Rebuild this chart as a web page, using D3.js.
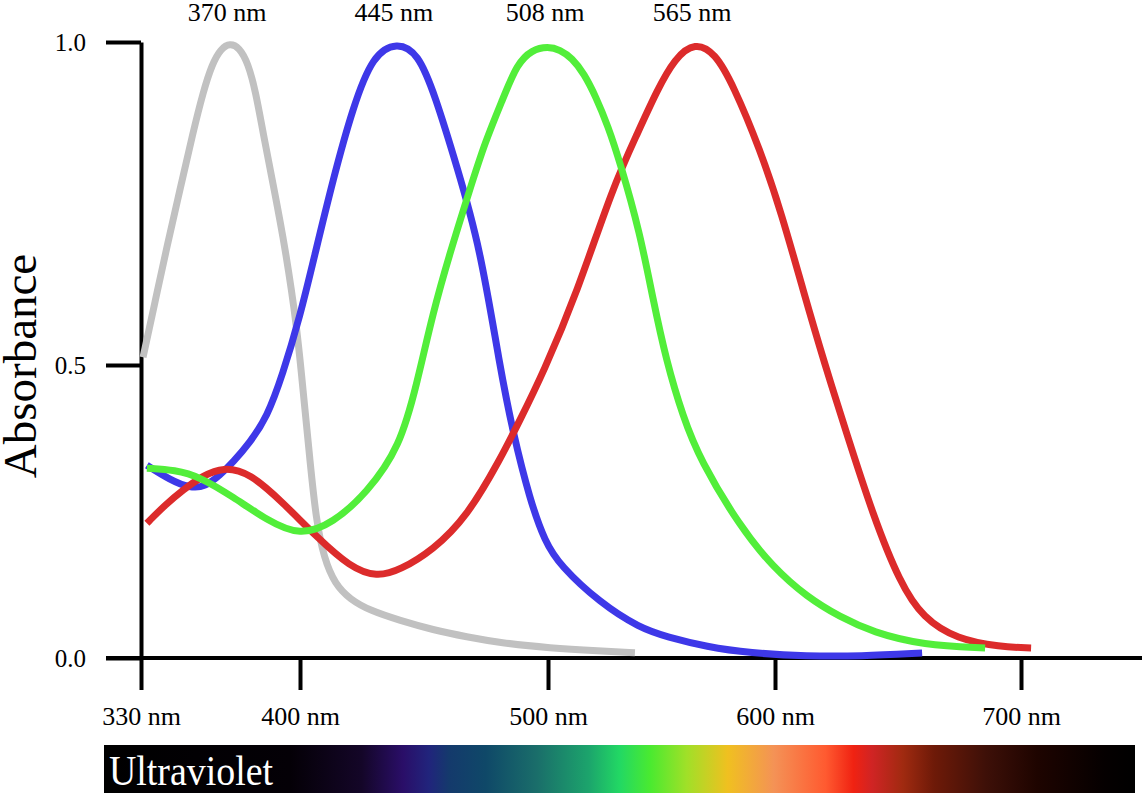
<!DOCTYPE html>
<html>
<head>
<meta charset="utf-8">
<script src="https://cdn.jsdelivr.net/npm/d3@7"></script>
<style>
  html, body { margin: 0; padding: 0; background: #fff; }
  svg { display: block; font-family: "Liberation Serif", "Times New Roman", serif; }
</style>
</head>
<body>
<svg id="chart" width="1143" height="793"></svg>
<script>
// ---- data ----
const xTicks = [330, 400, 500, 600, 700];
const yTicks = [0, 0.5, 1.0];
const peakLabels = ["370 nm", "445 nm", "508 nm", "565 nm"];

// [wavelength nm, absorbance]
const rodUV = [
  [330.9,0.512],[336.2,0.598],[341.4,0.683],[347.2,0.772],[352.9,0.860],[357.3,0.922],
  [361.3,0.966],[365.2,0.990],[369.2,0.998],[373.1,0.992],[377.1,0.968],[380.6,0.921],
  [383.7,0.860],[388.6,0.772],[393.4,0.683],[398.7,0.559],[401.6,0.440],[404.0,0.338],
  [406.5,0.235],[409.7,0.170],[414.1,0.126],[420.2,0.100],[428.2,0.081],[440.3,0.064],
  [453.6,0.048],[467.3,0.036],[480.6,0.026],[500.9,0.017],[522.9,0.012],[538.3,0.009]
];
const coneS = [
  [332.6,0.329],[342.8,0.304],[351.6,0.290],[358.2,0.292],[364.8,0.312],[370.5,0.334],
  [377.8,0.367],[385.5,0.411],[392.3,0.483],[400.0,0.575],[406.0,0.671],[413.3,0.787],
  [421.4,0.900],[429.4,0.980],[439.1,1.000],[447.6,0.983],[454.4,0.918],[463.3,0.807],
  [472.6,0.683],[480.6,0.497],[485.9,0.384],[492.7,0.270],[498.8,0.198],[505.3,0.158],
  [522.9,0.094],[540.5,0.051],[552.4,0.036],[570.0,0.019],[588.9,0.0085],[613.0,0.003],
  [634.6,0.003],[659.8,0.0085]
];
const coneM = [
  [332.6,0.324],[345.0,0.321],[356.0,0.309],[370.5,0.275],[385.5,0.235],[400.0,0.208],
  [413.3,0.230],[427.0,0.282],[440.3,0.360],[447.2,0.469],[453.6,0.581],[460.5,0.674],
  [468.5,0.772],[474.6,0.845],[481.9,0.913],[487.5,0.966],[493.5,0.988],[500.0,0.993],
  [505.3,0.988],[510.6,0.975],[515.9,0.951],[521.1,0.915],[526.4,0.870],[531.7,0.814],
  [540.5,0.705],[546.3,0.601],[552.0,0.508],[559.5,0.411],[567.0,0.338],[584.6,0.224],
  [599.1,0.155],[613.0,0.104],[626.4,0.070],[639.8,0.044],[660.2,0.022],[685.4,0.017]
];
const coneL = [
  [332.6,0.230],[340.6,0.261],[348.5,0.287],[357.3,0.311],[366.1,0.326],[378.0,0.316],
  [392.5,0.265],[406.9,0.206],[420.2,0.155],[431.0,0.138],[440.3,0.150],[453.6,0.184],
  [467.3,0.241],[480.6,0.338],[488.7,0.406],[498.0,0.486],[512.8,0.612],[528.6,0.776],
  [539.2,0.857],[548.0,0.925],[555.9,0.975],[564.8,1.000],[573.6,0.983],[581.5,0.934],
  [593.4,0.834],[602.8,0.733],[611.4,0.616],[620.3,0.500],[629.3,0.381],[639.8,0.244],
  [650.8,0.128],[660.2,0.068],[674.0,0.032],[691.5,0.019],[704.1,0.017]
];

// spectrum bar colour stops: [offset, colour]
const spectrumStops = [
  [0.00,"#000000"],[0.18,"#040006"],[0.25,"#140628"],[0.29,"#2a0e68"],[0.315,"#21247c"],
  [0.335,"#143a6c"],[0.37,"#0f4868"],[0.42,"#1a6e6a"],[0.47,"#1ca46c"],[0.50,"#22d864"],
  [0.53,"#4aea30"],[0.565,"#a0e028"],[0.605,"#f0c020"],[0.65,"#f49256"],[0.70,"#ff5a30"],
  [0.727,"#f02212"],[0.745,"#d02424"],[0.775,"#a02a10"],[0.805,"#6e1a08"],[0.855,"#3e1008"],
  [0.905,"#1e0400"],[0.97,"#050000"],[1.00,"#000000"]
];

// ---- scales ----
const svg = d3.select("#chart");
const x = d3.scaleLinear().domain(xTicks).range([141, 300, 548, 775, 1021]);
const y = d3.scaleLinear().domain([0, 0.5, 1]).range([658, 365, 42]);
const serif = "Liberation Serif, Times New Roman, serif";

// ---- axes ----
const axisColor = "#000";
svg.append("line").attr("x1", 106).attr("x2", 1142).attr("y1", y(0)).attr("y2", y(0))
  .attr("stroke", axisColor).attr("stroke-width", 4);

const yAxis = svg.append("g").attr("transform", `translate(${x(330)},0)`)
  .call(d3.axisLeft(y).tickValues(yTicks).tickFormat(d3.format(".1f")).tickSize(35).tickSizeOuter(0).tickPadding(20));
yAxis.select(".domain").attr("stroke", axisColor).attr("stroke-width", 4);
yAxis.selectAll(".tick line").attr("stroke", axisColor).attr("stroke-width", 4);
yAxis.selectAll(".tick text").attr("font-size", 25).attr("fill", "#000").attr("font-family", serif);

const xAxis = svg.append("g").attr("transform", `translate(0,${y(0)})`)
  .call(d3.axisBottom(x).tickValues(xTicks).tickFormat(d => d + " nm").tickSize(32).tickSizeOuter(0).tickPadding(17));
xAxis.select(".domain").remove();
xAxis.selectAll(".tick line").attr("stroke", axisColor).attr("stroke-width", 4);
xAxis.selectAll(".tick text").attr("font-size", 26).attr("fill", "#000").attr("font-family", serif);

// y axis title
svg.append("text").attr("transform", `translate(36,${y(0.5) + 1}) rotate(-90)`)
  .attr("text-anchor", "middle").attr("font-size", 47).attr("fill", "#000")
  .text("Absorbance");

// ---- curves ----
const line = d3.line().x(d => x(d[0])).y(d => y(d[1])).curve(d3.curveBasis);
const series = [
  { data: rodUV, color: "#c1c1c1", label: peakLabels[0] },
  { data: coneS, color: "#3e38e8", label: peakLabels[1] },
  { data: coneL, color: "#dc2b2b", label: peakLabels[3] },
  { data: coneM, color: "#52ee3a", label: peakLabels[2] }
];
svg.append("g").selectAll("path").data(series).join("path")
  .attr("d", s => line(s.data)).attr("fill", "none")
  .attr("stroke", s => s.color).attr("stroke-width", 7);

// peak labels
svg.append("g").selectAll("text").data(series).join("text")
  .attr("x", s => x(s.data.reduce((a, b) => (b[1] > a[1] ? b : a))[0]) - 3)
  .attr("y", 21).attr("text-anchor", "middle").attr("font-size", 26).attr("fill", "#000")
  .text(s => s.label);

// ---- spectrum bar ----
const grad = svg.append("defs").append("linearGradient").attr("id", "spec")
  .attr("x1", "0%").attr("x2", "100%").attr("y1", "0%").attr("y2", "0%");
grad.selectAll("stop").data(spectrumStops).join("stop")
  .attr("offset", d => d[0]).attr("stop-color", d => d[1]);
svg.append("rect").attr("x", 104).attr("y", 745).attr("width", 1031).attr("height", 48)
  .attr("fill", "url(#spec)");
svg.append("text").attr("x", 109).attr("y", 785).attr("font-size", 42).attr("fill", "#fff")
  .attr("textLength", 164).attr("lengthAdjust", "spacingAndGlyphs")
  .text("Ultraviolet");
</script>
</body>
</html>
